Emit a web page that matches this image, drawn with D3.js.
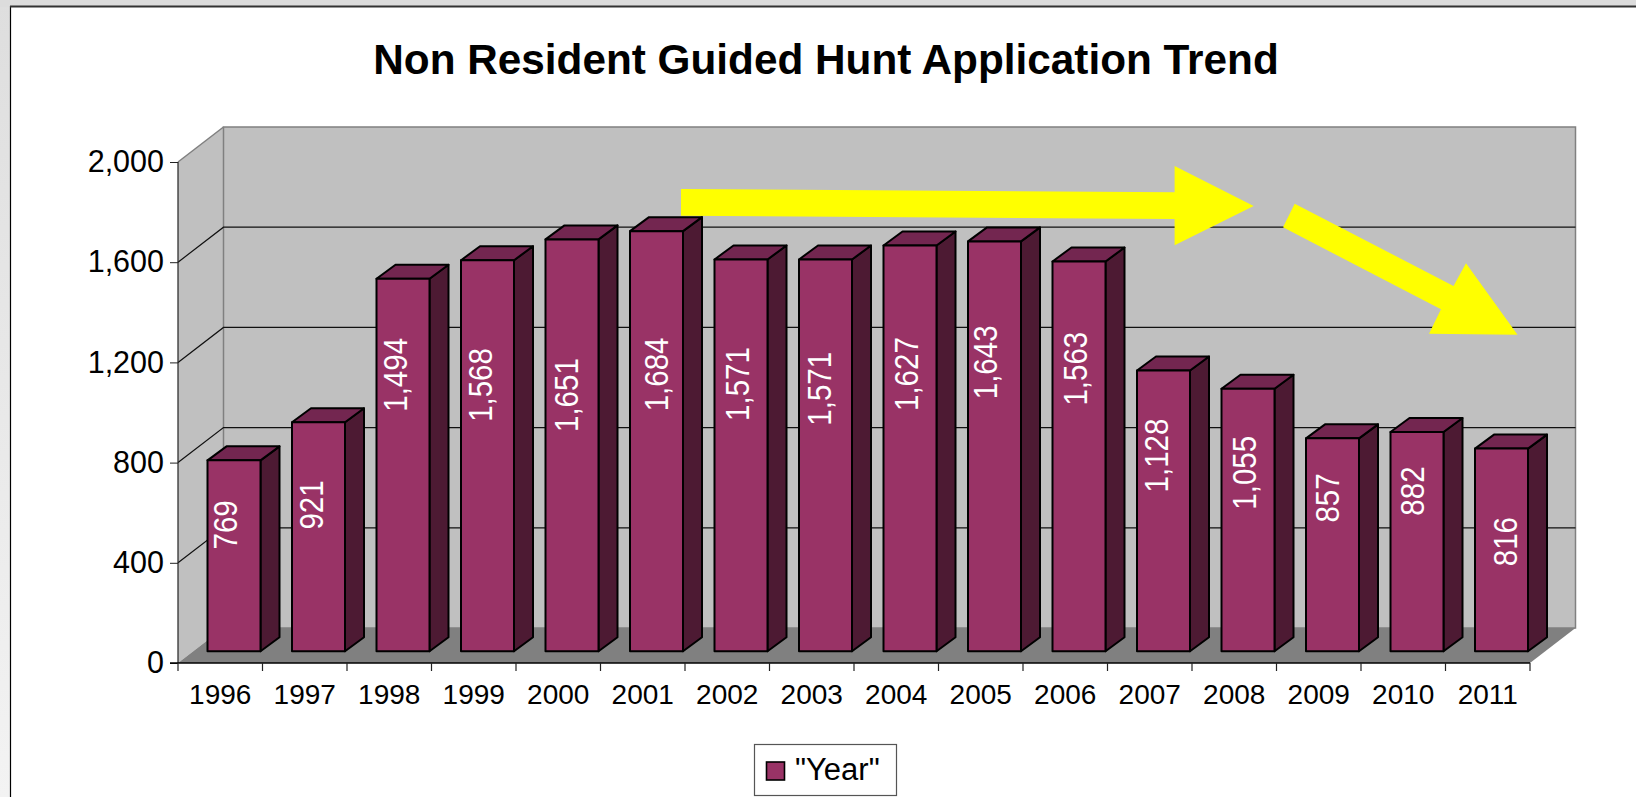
<!DOCTYPE html>
<html>
<head>
<meta charset="utf-8">
<script src="https://cdn.jsdelivr.net/npm/d3@7"></script>
<style>
  html, body { margin: 0; padding: 0; background: #fff; overflow: hidden; }
  text { font-family: "Liberation Sans", Arial, sans-serif; }
  .domain { display: none; }
</style>
</head>
<body>
<script>
//Data
const years = ["1996","1997","1998","1999","2000","2001","2002","2003","2004","2005","2006","2007","2008","2009","2010","2011"];
const applications = [769,921,1494,1568,1651,1684,1571,1571,1627,1643,1563,1128,1055,857,882,816];
const yTicks = [0,400,800,1200,1600,2000];
const gridTicks = [400,800,1200,1600];
const title = "Non Resident Guided Hunt Application Trend";
const legendLabel = '"Year"';

//Layout
const width = 1636, height = 797;
const plotLeft = 178, plotRight = 1530, plotTop = 162, plotBottom = 663;
const depthX = 45.5, depthY = -35;     //depth of the chart box
const barDX = 19, barDY = -14;         //depth of a bar
const barInset = 29.5, barWidth = 53, baseLift = 11.7, topLift = 10;

//labels were placed by hand in the original: how far up the bar, and sideways from its centre
const labelHeights = [.662,.639,.742,.681,.622,.659,.682,.670,.683,.705,.725,.697,.680,.720,.731,.541];
const labelNudges = [-9.5,-7.6,-8.2,-8,-6.4,-1,-4.4,-7,-4,-9.5,-4,-7.5,-4,-5.5,-5.3,3];

const purple = "#993366", purpleTop = "#732650", purpleSide = "#4d1a33";

const svg = d3.select("body").append("svg")
  .attr("width", width)
  .attr("height", height)
  .style("display", "block");

//Page background around the frame
const strip = svg.append("defs").append("linearGradient")
  .attr("id", "strip").attr("x1", 0).attr("x2", 0).attr("y1", 0).attr("y2", 1);
strip.append("stop").attr("offset", 0).attr("stop-color", "#dedede");
strip.append("stop").attr("offset", 1).attr("stop-color", "#f3f3f3");
svg.append("rect").attr("width", width).attr("height", height).attr("fill", "url(#strip)");
svg.append("rect").attr("width", width).attr("height", 7).attr("fill", "#dcdcdc");
svg.append("rect").attr("x", 10).attr("y", 6).attr("width", width).attr("height", height)
  .attr("fill", "#fff");
svg.append("line").attr("x1", 10.5).attr("x2", 10.5).attr("y1", 6).attr("y2", height)
  .attr("stroke", "#000").attr("stroke-width", 1.2);
svg.append("line").attr("x1", 10).attr("x2", width).attr("y1", 6.5).attr("y2", 6.5)
  .attr("stroke", "#333").attr("stroke-width", 1.8);

//Scales
const xScale = d3.scaleBand().domain(years).range([plotLeft, plotRight]);
const yScale = d3.scaleLinear().domain([0, 2000]).range([plotBottom, plotTop]);

const pts = a => a.map(p => p.join(",")).join(" ");

//Walls and floor
svg.append("polygon")
  .attr("points", pts([[plotLeft, plotTop],[plotLeft + depthX, plotTop + depthY],[plotLeft + depthX, plotBottom + depthY],[plotLeft, plotBottom]]))
  .attr("fill", "#c0c0c0");
svg.append("rect")
  .attr("x", plotLeft + depthX).attr("y", plotTop + depthY)
  .attr("width", plotRight - plotLeft).attr("height", plotBottom - plotTop)
  .attr("fill", "#c0c0c0").attr("stroke", "#808080").attr("stroke-width", 1.5);
svg.append("polygon")
  .attr("points", pts([[plotLeft, plotBottom],[plotLeft + depthX, plotBottom + depthY],[plotRight + depthX, plotBottom + depthY],[plotRight, plotBottom]]))
  .attr("fill", "#808080");
svg.append("line")
  .attr("x1", plotLeft).attr("y1", plotTop).attr("x2", plotLeft + depthX).attr("y2", plotTop + depthY)
  .attr("stroke", "#808080").attr("stroke-width", 1.5);

//Gridlines
const grid = svg.append("g").attr("fill", "none").attr("stroke", "#111").attr("stroke-width", 1.2);
grid.selectAll("polyline").data(gridTicks).enter().append("polyline")
  .attr("points", d => pts([[plotLeft, yScale(d)],[plotLeft + depthX, yScale(d) + depthY],[plotRight + depthX, yScale(d) + depthY]]));

//Bars
const bars = svg.selectAll(".bar").data(years).enter().append("g")
  .attr("class", "bar")
  .attr("stroke", "#000").attr("stroke-width", 2).attr("stroke-linejoin", "round");
const barX = d => xScale(d) + barInset;
const barTop = (d, i) => yScale(applications[i]) - topLift;
const barBase = yScale(0) - baseLift;

bars.append("polygon")
  .attr("fill", purpleSide)
  .attr("points", (d, i) => {
    const x = barX(d) + barWidth, t = barTop(d, i);
    return pts([[x, t],[x + barDX, t + barDY],[x + barDX, barBase + barDY],[x, barBase]]);
  });
bars.append("polygon")
  .attr("fill", purpleTop)
  .attr("points", (d, i) => {
    const x = barX(d), t = barTop(d, i);
    return pts([[x, t],[x + barDX, t + barDY],[x + barWidth + barDX, t + barDY],[x + barWidth, t]]);
  });
bars.append("rect")
  .attr("x", barX)
  .attr("y", barTop)
  .attr("width", barWidth)
  .attr("height", (d, i) => barBase - barTop(d, i))
  .attr("fill", purple);

//Value labels, a bit stretched across like the original
svg.selectAll(".value").data(years).enter().append("text")
  .attr("class", "value")
  .attr("transform", (d, i) => {
    const cy = barBase - (barBase - barTop(d, i)) * labelHeights[i];
    const cx = barX(d) + barWidth / 2 + labelNudges[i];
    return "translate(" + cx + "," + cy + ") rotate(-90) scale(1,1.13)";
  })
  .attr("dy", "0.36em")
  .attr("text-anchor", "middle")
  .attr("fill", "#fff")
  .style("font-size", "29.5px")
  .text((d, i) => d3.format(",")(applications[i]));

//Axes
const leftAxis = d3.axisLeft(yScale).tickValues(yTicks).tickSize(8).tickPadding(6).tickFormat(d3.format(","));
const bottomAxis = d3.axisBottom(xScale).tickSize(0).tickPadding(21);

const yAxisG = svg.append("g").attr("transform", "translate(" + plotLeft + ",0)").call(leftAxis);
yAxisG.selectAll("text").attr("fill", "#000").style("font-size", "30.5px");
yAxisG.selectAll("line").attr("stroke", "#222");

const xAxisG = svg.append("g").attr("transform", "translate(0," + plotBottom + ")").call(bottomAxis);
xAxisG.selectAll("text").attr("fill", "#000").style("font-size", "28px");

//Axis lines and the ticks between the years
svg.append("line").attr("x1", plotLeft).attr("x2", plotLeft).attr("y1", plotTop).attr("y2", plotBottom)
  .attr("stroke", "#222").attr("stroke-width", 1.2);
svg.append("line").attr("x1", plotLeft - 8).attr("x2", plotRight).attr("y1", plotBottom).attr("y2", plotBottom)
  .attr("stroke", "#000").attr("stroke-width", 1.5);
svg.selectAll(".xtick").data(years.concat("end")).enter().append("line")
  .attr("class", "xtick")
  .attr("x1", d => d === "end" ? plotRight : xScale(d))
  .attr("x2", d => d === "end" ? plotRight : xScale(d))
  .attr("y1", plotBottom).attr("y2", plotBottom + 8)
  .attr("stroke", "#222").attr("stroke-width", 1.2);

//Yellow arrows drawn over the chart
const arrows = [
  [[681,189],[1174.6,192.3],[1174.6,166],[1253.7,206],[1174.6,245.3],[1174.6,219],[681,215.7]],
  [[1294.7,203.7],[1453.5,286],[1466,263.3],[1517.5,334.7],[1429,333.7],[1441,309.3],[1283,227.3]]
];
svg.selectAll(".arrow").data(arrows).enter().append("polygon")
  .attr("class", "arrow")
  .attr("points", pts)
  .attr("fill", "#ffff00");

//Title
svg.append("text")
  .attr("x", 826).attr("y", 74)
  .attr("text-anchor", "middle")
  .attr("font-weight", "bold")
  .attr("fill", "#000")
  .style("font-size", "42.3px")
  .text(title);

//Legend
svg.append("rect")
  .attr("x", 754.5).attr("y", 744.5).attr("width", 142).attr("height", 51)
  .attr("fill", "#fff").attr("stroke", "#555").attr("stroke-width", 1.2);
svg.append("rect")
  .attr("x", 766.5).attr("y", 762).attr("width", 18).attr("height", 18)
  .attr("fill", purple).attr("stroke", "#000").attr("stroke-width", 1.6);
svg.append("text")
  .attr("x", 795).attr("y", 780)
  .attr("fill", "#000")
  .style("font-size", "31px")
  .text(legendLabel);
</script>
</body>
</html>
